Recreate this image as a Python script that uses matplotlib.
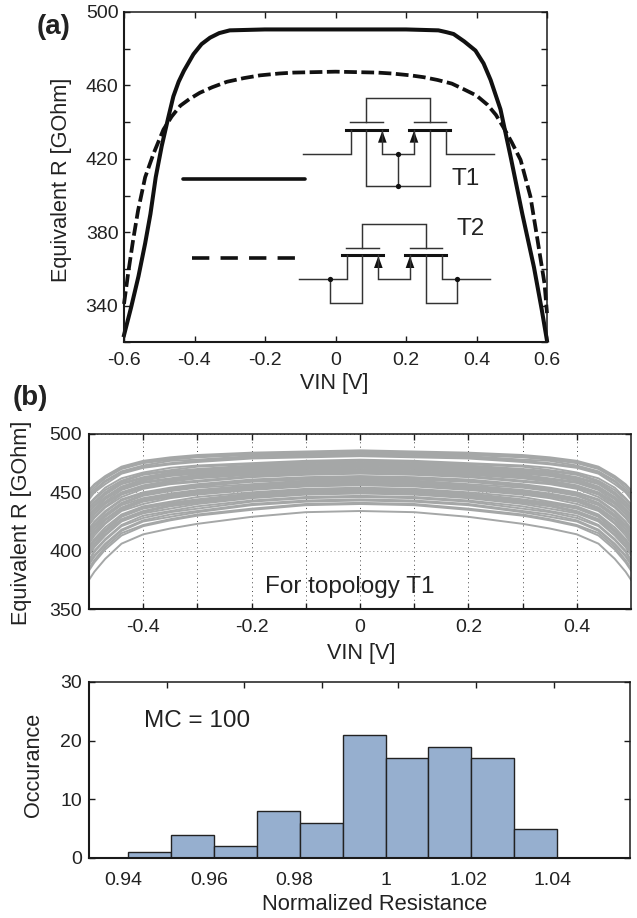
import numpy as np
import matplotlib
matplotlib.use('Agg')
import matplotlib.pyplot as plt

plt.rcParams['font.family'] = ['Liberation Sans', 'DejaVu Sans']
plt.rcParams['font.size'] = 14
plt.rcParams['text.color'] = '#222222'
plt.rcParams['axes.labelcolor'] = '#222222'
plt.rcParams['xtick.labelcolor'] = '#222222'
plt.rcParams['ytick.labelcolor'] = '#222222'

W, H = 637, 918

# (a) curves
solid_x = [-0.6, -0.58, -0.559, -0.54, -0.525, -0.51, -0.493, -0.475, -0.46, -0.445, -0.43, -0.415, -0.403, -0.38, -0.356,
           -0.33, -0.3, -0.2, 0, 0.2, 0.292, 0.315, 0.335, 0.365, 0.397, 0.42, 0.44, 0.468, 0.497, 0.53,
           0.563, 0.585, 0.6]
solid_y = [324, 339, 356, 374, 390, 410, 427, 442, 454, 462, 468, 473, 477, 482.5, 486,
           488.5, 490, 490.5, 490.5, 490.5, 490, 489, 488, 484, 479, 472, 463, 447, 421, 390,
           361, 338, 321]
dash_x = [-0.6, -0.588, -0.574, -0.56, -0.54, -0.516, -0.488, -0.465, -0.44, -0.415, -0.385, -0.35, -0.308,
          -0.26, -0.214, -0.16, -0.119, 0, 0.119, 0.16, 0.2125, 0.25, 0.289, 0.33, 0.363, 0.4, 0.431,
          0.455, 0.477, 0.5, 0.525, 0.553, 0.573, 0.593, 0.6]
dash_y = [341, 358, 376, 392, 410, 423, 436, 443, 449, 452.5, 456, 459, 462,
          464, 465.5, 466.5, 467, 467.5, 467, 466.5, 465.5, 464.5, 463, 461, 458, 454.5, 449.5,
          444, 437, 429, 419.5, 399.5, 376, 352, 336]

# (b) monte carlo curves, half of the sweep (the other half looks mirrored)
mc_x = [0, 0.1, 0.2, 0.3, 0.35, 0.4, 0.44, 0.47, 0.49, 0.5]
mc_curves = [
    [486, 485, 484, 482, 480, 477, 472, 464, 457, 452],
    [485, 484, 483, 481, 479, 476, 471, 463, 456, 451],
    [484, 483, 482, 480, 478, 475, 470, 462, 454, 449],
    [483, 482, 481, 478, 477, 473, 468, 460, 452, 447],
    [482, 481, 480, 477, 475, 472, 467, 459, 451, 446],
    [481, 480, 479, 476, 474, 471, 466, 457, 450, 444],
    [478, 477, 475, 473, 471, 467, 462, 454, 445, 440],
    [477, 476, 474, 472, 469, 466, 460, 452, 444, 439],
    [476, 475, 473, 470, 468, 465, 459, 450, 442, 437],
    [475, 474, 472, 469, 467, 463, 458, 449, 441, 436],
    [474, 473, 471, 468, 466, 462, 457, 448, 439, 434],
    [473, 472, 470, 467, 465, 461, 455, 446, 438, 433],
    [472, 471, 469, 466, 464, 460, 454, 445, 436, 431],
    [471, 470, 468, 465, 462, 459, 453, 444, 435, 430],
    [470, 469, 467, 464, 461, 458, 452, 442, 434, 428],
    [469, 468, 466, 463, 460, 456, 450, 441, 432, 427],
    [468, 467, 465, 462, 459, 455, 449, 440, 431, 425],
    [467, 466, 464, 460, 458, 454, 448, 438, 429, 423],
    [466, 465, 463, 459, 457, 453, 446, 437, 428, 422],
    [464, 463, 461, 457, 454, 450, 444, 434, 425, 419],
    [463, 462, 460, 456, 453, 449, 443, 433, 424, 417],
    [462, 461, 459, 455, 452, 448, 441, 431, 422, 416],
    [461, 460, 457, 454, 451, 447, 440, 430, 421, 415],
    [460, 459, 456, 452, 449, 445, 439, 429, 419, 413],
    [459, 458, 455, 451, 448, 444, 437, 427, 418, 411],
    [458, 457, 454, 450, 447, 443, 436, 426, 416, 410],
    [457, 456, 453, 449, 446, 442, 435, 424, 415, 408],
    [456, 455, 452, 448, 445, 440, 434, 423, 413, 406],
    [454, 453, 450, 446, 442, 438, 431, 420, 410, 404],
    [453, 452, 449, 444, 441, 437, 430, 418, 409, 402],
    [452, 451, 448, 443, 440, 436, 429, 417, 408, 401],
    [451, 450, 447, 442, 439, 434, 427, 416, 406, 399],
    [450, 449, 446, 441, 438, 433, 426, 414, 405, 398],
    [449, 448, 445, 440, 436, 432, 425, 413, 403, 396],
    [447, 446, 443, 438, 434, 430, 422, 410, 400, 392],
    [446, 445, 442, 436, 433, 428, 421, 409, 399, 391],
    [444, 443, 440, 434, 431, 426, 418, 406, 396, 389],
    [443, 442, 439, 433, 429, 425, 417, 405, 395, 388],
    [441, 440, 436, 431, 427, 422, 415, 403, 392, 385],
    [440, 439, 435, 430, 426, 421, 413, 401, 390, 383],
    [434, 433, 429, 423, 419, 414, 406, 393, 382, 375],
]

# (c) histogram
bin_left = [0.94, 0.95, 0.96, 0.97, 0.98, 0.99, 1.0, 1.01, 1.02, 1.03]
counts = [1, 4, 2, 8, 6, 21, 17, 19, 17, 5]
hist_labels = ['0.94', '0.96', '0.98', '1', '1.02', '1.04']
hist_label_pos = [0.9388, 0.9588, 0.9787, 1.0, 1.0194, 1.039]
hist_top_ticks = [0.949, 0.9669, 0.9851, 1.0029, 1.0211, 1.0393]


def make_axes(left, top, right, bottom):
    ax = fig.add_axes([left / W, 1 - bottom / H, (right - left) / W, (bottom - top) / H])
    for s in ax.spines.values():
        s.set_linewidth(1.1)
        s.set_color('#1a1a1a')
    ax.spines['left'].set_linewidth(1.5)
    ax.spines['bottom'].set_linewidth(1.5)
    ax.tick_params(which='both', direction='in', length=4, width=1.0, color='#1a1a1a',
                   top=True, right=True, labelsize=14)
    return ax


fig = plt.figure(figsize=(W / 100, H / 100), dpi=100)

# panel a
ax1 = make_axes(124, 12, 547, 342.5)
ax1.plot(solid_x, solid_y, color='#111111', lw=2.9, solid_joinstyle='round', clip_on=False)
ax1.plot(dash_x, dash_y, color='#111111', lw=2.7, dashes=(3.4, 1.2), clip_on=False)
ax1.set_xlim(-0.6, 0.6)
ax1.set_ylim(320, 500)
ax1.set_xticks([-0.6, -0.4, -0.2, 0, 0.2, 0.4, 0.6])
ax1.set_xticklabels(['-0.6', '-0.4', '-0.2', '0', '0.2', '0.4', '0.6'])
ax1.set_yticks(np.arange(320, 501, 20))
ax1.set_yticklabels(['', '340', '', '380', '', '420', '', '460', '', '500'])
ax1.tick_params(axis='x', pad=7)
ax1.tick_params(axis='y', pad=4)

# panel b
ax2 = make_axes(89, 434, 631, 609)
full_x = [-v for v in mc_x[::-1]] + mc_x[1:]
for row in mc_curves:
    ax2.plot(full_x, row[::-1] + row[1:], color='#a5a7a7', lw=1.4)
ax2.set_xlim(-0.5, 0.5)
ax2.set_ylim(350, 500)
ax2.set_xticks(np.round(np.arange(-0.4, 0.41, 0.1), 1))
ax2.set_xticklabels(['-0.4', '', '-0.2', '', '0', '', '0.2', '', '0.4'])
ax2.set_yticks([350, 400, 450, 500])
ax2.set_axisbelow(True)
ax2.grid(axis='x', color='#444444', lw=0.7, dashes=(1, 3.5))
ax2.grid(axis='y', color='#888888', lw=0.7, dashes=(1, 3))
ax2.tick_params(axis='x', pad=7)
ax2.tick_params(axis='y', pad=5)

# panel c
ax3 = make_axes(89, 682, 630, 858)
ax3.bar(bin_left, counts, width=0.01, align='edge', color='#96afcf', edgecolor='#222222', lw=1.0)
ax3.set_xlim(0.93084, 1.057)
ax3.set_ylim(0, 30)
ax3.set_yticks([0, 10, 20, 30])
ax3.set_xticks(hist_label_pos)
ax3.set_xticklabels(hist_labels)
# the top ticks do not sit over the labels in the original
ax3.set_xticks(hist_top_ticks, minor=True)
ax3.tick_params(axis='x', which='major', length=0, top=False, bottom=False, pad=10)
ax3.tick_params(axis='x', which='minor', top=True, bottom=False, length=4)
ax3.tick_params(axis='y', pad=5)

# overlay in picture pixels for the labels and the circuit drawings
ov = fig.add_axes([0, 0, 1, 1], facecolor='none')
ov.set_xlim(0, W)
ov.set_ylim(H, 0)
ov.axis('off')

ov.text(54, 27, '(a)', fontsize=20, fontweight='bold', ha='center', va='center')
ov.text(30, 398, '(b)', fontsize=20, fontweight='bold', ha='center', va='center')
ov.text(62, 180, 'Equivalent R [GOhm]', rotation=90, fontsize=15.6, ha='center', va='center')
ov.text(334, 383, 'VIN [V]', fontsize=15.6, ha='center', va='center')
ov.text(22, 523, 'Equivalent R [GOhm]', rotation=90, fontsize=15.6, ha='center', va='center')
ov.text(361, 654, 'VIN [V]', fontsize=15.6, ha='center', va='center')
ov.text(33, 765, 'Occurance', rotation=90, fontsize=15.6, ha='center', va='center')
ov.text(375, 905, 'Normalized Resistance', fontsize=15.8, ha='center', va='center')
ov.text(350, 587, 'For topology T1', fontsize=17.5, ha='center', va='center')
ov.text(197, 721, 'MC = 100', fontsize=17.5, ha='center', va='center')
ov.text(466, 179, 'T1', fontsize=17.5, ha='center', va='center')
ov.text(471, 229, 'T2', fontsize=17.5, ha='center', va='center')

# legend strokes beside the circuits
ov.plot([183, 305], [178.5, 178.5], color='#111111', lw=2.6, solid_capstyle='round')
ov.plot([192, 298], [258, 258], color='#111111', lw=2.6, dashes=(4.8, 3.1))


def wire(points, lw=1.05, color='#333333'):
    # points come from a 3x crop whose corner is at (170, 80)
    xs = [170 + p[0] / 3 for p in points]
    ys = [80 + p[1] / 3 for p in points]
    ov.plot(xs, ys, color=color, lw=lw, solid_joinstyle='miter')


def arrow(x, y0, y1):
    xs = [170 + v / 3 for v in [x - 13, x, x + 13]]
    ys = [80 + v / 3 for v in [y1, y0, y1]]
    ov.fill(xs, ys, color='#111111', lw=0)


def dot(x, y):
    ov.plot([170 + x / 3], [80 + y / 3], 'o', color='#111111', ms=3.8, mew=0)


# T1
wire([(589, 127), (589, 55), (780, 55), (780, 127)])
wire([(540, 127), (638, 127)])
wire([(731, 127), (828, 127)])
wire([(528, 150), (651, 150)], lw=2.2, color='#111111')
wire([(718, 150), (841, 150)], lw=2.2, color='#111111')
wire([(398, 221), (542, 221), (542, 150)])
wire([(637, 150), (637, 221), (732, 221), (732, 150)])
wire([(828, 150), (828, 221), (971, 221)])
wire([(589, 150), (589, 317), (780, 317), (780, 150)])
wire([(685, 222), (685, 317)])
arrow(637, 152, 188)
arrow(732, 152, 188)
dot(685, 222)
dot(685, 317)

# T2
wire([(577, 503), (577, 431), (768, 431), (768, 503)])
wire([(528, 503), (626, 503)])
wire([(719, 503), (816, 503)])
wire([(516, 526), (639, 526)], lw=2.2, color='#111111')
wire([(706, 526), (829, 526)], lw=2.2, color='#111111')
wire([(386, 597), (530, 597), (530, 526)])
wire([(625, 526), (625, 597), (720, 597), (720, 526)])
wire([(816, 526), (816, 597), (959, 597)])
wire([(481, 597), (481, 668), (577, 668), (577, 526)])
wire([(862, 597), (862, 668), (768, 668), (768, 526)])
arrow(625, 528, 564)
arrow(720, 528, 564)
dot(481, 597)
dot(862, 597)

fig.savefig('out.png', dpi=100)
